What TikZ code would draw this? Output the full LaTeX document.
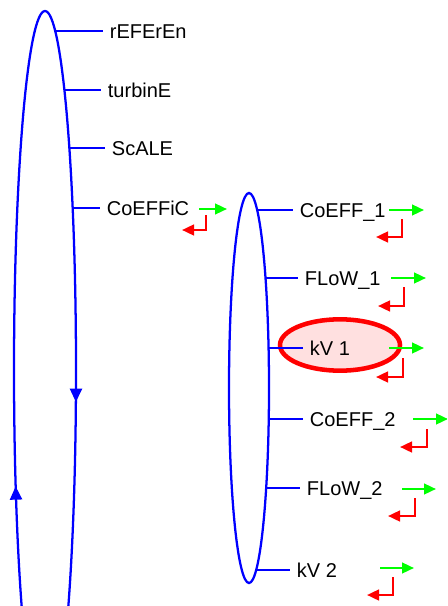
\documentclass[tikz,border=0pt]{standalone}
\usepackage{fontspec}
\setmainfont{Liberation Sans}
\usetikzlibrary{arrows.meta, decorations.markings, shapes.geometric}
\begin{document}
\begin{tikzpicture}[x = 0.75pt, y = -0.75pt,
        loop/.style = {blue, line width = 1.7pt},
        branch/.style = {blue, line width = 1.7pt},
        lbl/.style = {anchor = west, inner xsep = 5pt, inner ysep = 0pt, text height = 10.7pt, text depth = 0pt, font = \fontsize{15}{18}\selectfont},
        fwd/.style = {green, line width = 1.7pt, -{Triangle[length = 9pt, width = 8pt]}},
        back/.style = {red, line width = 1.8pt, -{Triangle[length = 9pt, width = 8pt]}},
        hilite/.style = {ellipse, draw = red, fill = red!12, line width = 3.4pt, minimum width = 90pt, minimum height = 38.5pt}]
        \useasboundingbox (0, 0) rectangle (447, 606);
        \clip (0, 0) rectangle (447, 606);
        \node[hilite] (sel) at (340, 345) {};
        \draw[loop, postaction = {decorate}, decoration = {markings,
            mark = at position 0.022 with {\arrow{Triangle[length = 10pt, width = 9pt]}},
            mark = at position 0.42 with {\arrow{Triangle[length = 10pt, width = 9pt]}}}]
            (45, 370) ellipse [x radius = 31, y radius = 359];
        \draw[loop] (249, 388) ellipse [x radius = 20, y radius = 195];
        \foreach \y/\xe/\nm/\txt in {31/103/ref/rEFErEn, 90/101/turb/turbinE, 148/105/scale/ScALE, 208/100/coef/CoEFFiC}{
            \pgfmathsetmacro{\bx}{45 + 31 * sqrt(1 - ((\y - 370) / 359)^2)}
            \coordinate (on\nm) at (\bx, \y);
            \node[lbl] (\nm) at (\xe, \y) {\txt};
            \draw[branch] (on\nm) -- (\nm);
        }
        \foreach \y/\xe/\nm/\txt in {210/293/cA/CoEFF\_1, 278/298/fA/FLoW\_1, 348/303/kA/kV 1, 419/303/cB/CoEFF\_2, 488/300/fB/FLoW\_2, 570/290/kB/kV 2}{
            \pgfmathsetmacro{\bx}{249 + 20 * sqrt(1 - ((\y - 388) / 195)^2)}
            \coordinate (on\nm) at (\bx, \y);
            \node[lbl] (\nm) at (\xe, \y) {\txt};
            \draw[branch] (on\nm) -- (\nm);
        }
        % forward / back marks
        \foreach \gx/\gy/\ge/\rx/\rt/\rb/\re in {199/209/227/206/215/230/182, 389/210/424/402/219/237/376,
            391/278/426/404/287/306/378, 389/348/424/403/358/377/376, 413/419/448/427/429/447/400,
            402/489/436/415/498/516/388, 380/568/414/393/577/595/367}{
            \draw[fwd] (\gx, \gy) -- (\ge, \gy);
            \draw[back] (\rx, \rt) |- (\re, \rb);
        }
    \end{tikzpicture}
\end{document}
